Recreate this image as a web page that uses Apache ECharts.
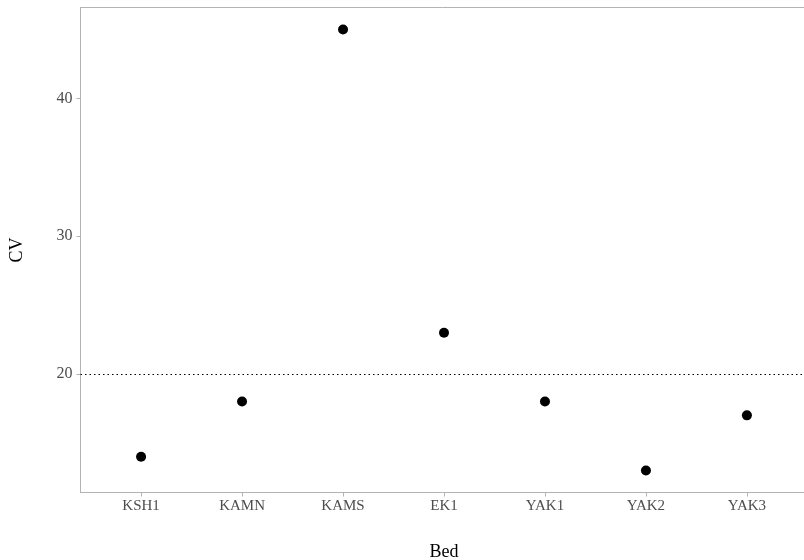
<!DOCTYPE html>
<html><head><meta charset="utf-8">
<script src="https://cdn.jsdelivr.net/npm/echarts@6/dist/echarts.min.js"></script>
<style>html,body{margin:0;padding:0;background:#fff}#c{width:804px;height:560px}</style>
</head><body><div id="c"></div>
<script>
const categories = ["KSH1","KAMN","KAMS","EK1","YAK1","YAK2","YAK3"];
const cvValues = [14, 18, 45, 23, 18, 13, 17];
const yTicks = [20, 30, 40];
const referenceLine = 20;

const chart = echarts.init(document.getElementById('c'));
const font = '"Liberation Serif", "Times New Roman", serif';
const xMin = -0.6, xMax = categories.length - 0.4;
chart.setOption({
  animation: false,
  grid: {left: 80.5, top: 7.5, width: 727, height: 485, show: false, outerBoundsMode: 'none', containLabel: false},
  xAxis: [{
    type: 'value', min: xMin, max: xMax,
    name: 'Bed', nameLocation: 'middle', nameGap: 51,
    nameTextStyle: {fontFamily: font, fontSize: 18, color: '#000'},
    axisLine: {show: true, onZero: false, lineStyle: {color: '#b3b3b3'}},
    axisTick: {show: true, length: 4, lineStyle: {color: '#b3b3b3'}, customValues: categories.map((c, i) => i)},
    axisLabel: {customValues: categories.map((c, i) => i), formatter: v => categories[Math.round(v)], fontFamily: font, fontSize: 15, color: '#4d4d4d', margin: 6},
    splitLine: {show: false}
  }, {
    type: 'value', min: xMin, max: xMax, position: 'top',
    axisLine: {show: true, onZero: false, lineStyle: {color: '#b3b3b3'}},
    axisTick: {show: false}, axisLabel: {show: false}, splitLine: {show: false}
  }],
  yAxis: {
    type: 'value', min: 11.4, max: 46.6,
    name: 'CV', nameLocation: 'middle', nameGap: 54, nameRotate: 90,
    nameTextStyle: {fontFamily: font, fontSize: 18, color: '#000'},
    axisLine: {show: true, onZero: false, lineStyle: {color: '#b3b3b3'}},
    axisTick: {show: true, length: 4, lineStyle: {color: '#b3b3b3'}, customValues: yTicks},
    axisLabel: {customValues: yTicks, fontFamily: font, fontSize: 16, color: '#4d4d4d', margin: 8},
    splitLine: {show: false}
  },
  series: [{
    type: 'scatter',
    xAxisIndex: 0,
    data: cvValues.map((v, i) => [i, v]),
    symbolSize: 10,
    itemStyle: {color: '#000', opacity: 1},
    markLine: {
      silent: true, symbol: 'none', label: {show: false},
      lineStyle: {color: '#000', type: [1.5, 3], width: 1},
      data: [{yAxis: referenceLine}]
    }
  }]
});
</script></body></html>
